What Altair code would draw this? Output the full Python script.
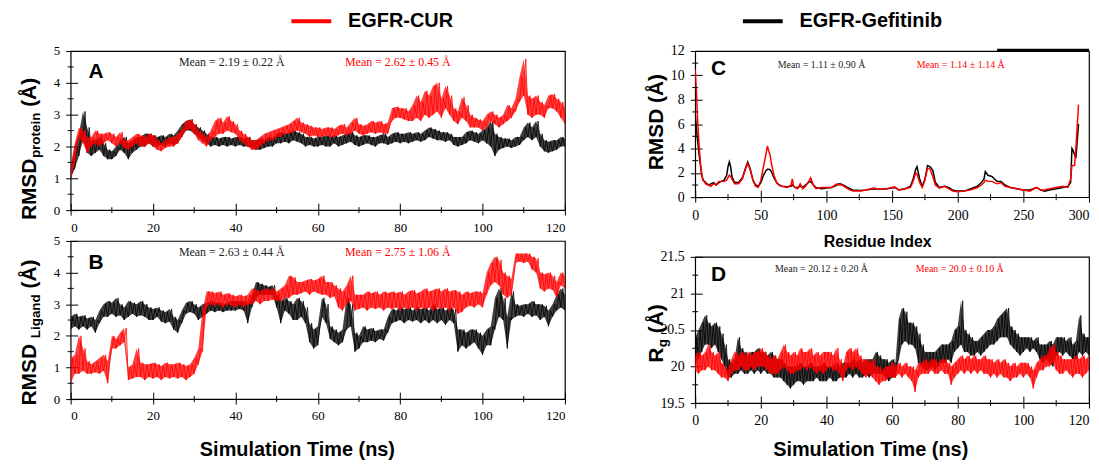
import altair as alt
import pandas as pd

# ------------------------------------------------------------------ data
SERIES = ["EGFR-CUR", "EGFR-Gefitinib"]
SERIES_COLORS = ["#ff0000", "#000000"]

TIME_NS = list(range(0, 121))

# Panel A: RMSD protein (band low / high read per ns)
A_GEF_LO = [1.0, 1.3, 1.7, 2.2, 1.8, 1.7, 1.8, 1.9, 1.7, 1.6,
            1.6, 1.7, 1.9, 1.8, 1.6, 1.8, 1.9, 2.0, 2.0, 2.1,
            2.0, 2.0, 2.05, 2.0, 2.1, 2.05, 2.1, 2.3, 2.5, 2.5,
            2.4, 2.3, 2.2, 2.1, 2.0, 2.05, 2.0, 2.05, 2.0, 2.05,
            2.0, 2.05, 2.0, 2.0, 1.95, 1.9, 1.9, 1.95, 2.0, 2.0,
            2.1, 2.1, 2.15, 2.1, 2.2, 2.15, 2.1, 2.0, 2.05, 2.0,
            2.0, 2.05, 2.0, 2.0, 2.1, 2.0, 2.05, 2.1, 2.15, 2.05,
            2.0, 2.05, 2.1, 2.05, 2.0, 2.1, 2.1, 2.05, 2.1, 2.15,
            2.1, 2.15, 2.1, 2.15, 2.2, 2.15, 2.2, 2.3, 2.25, 2.2,
            2.2, 2.15, 2.2, 2.05, 2.0, 2.05, 2.1, 2.2, 2.15, 2.1,
            2.2, 2.1, 2.0, 1.7, 1.9, 1.95, 2.0, 1.95, 2.0, 2.05,
            2.2, 2.3, 2.2, 2.3, 2.0, 1.85, 1.8, 1.85, 1.9, 2.0,
            2.0]
A_GEF_HI = [1.3, 2.0, 2.4, 3.1, 2.6, 2.2, 2.2, 2.3, 2.1, 1.9,
            1.85, 2.0, 2.2, 2.3, 2.1, 2.2, 2.3, 2.3, 2.4, 2.4,
            2.35, 2.3, 2.35, 2.3, 2.4, 2.35, 2.5, 2.7, 2.8, 2.85,
            2.7, 2.6, 2.5, 2.4, 2.3, 2.3, 2.25, 2.3, 2.3, 2.25,
            2.3, 2.3, 2.25, 2.3, 2.2, 2.2, 2.25, 2.2, 2.3, 2.25,
            2.4, 2.45, 2.4, 2.45, 2.5, 2.45, 2.4, 2.3, 2.3, 2.25,
            2.3, 2.3, 2.35, 2.3, 2.35, 2.3, 2.35, 2.4, 2.45, 2.35,
            2.3, 2.35, 2.35, 2.3, 2.3, 2.35, 2.4, 2.3, 2.4, 2.45,
            2.4, 2.4, 2.45, 2.4, 2.45, 2.4, 2.5, 2.6, 2.55, 2.5,
            2.45, 2.45, 2.4, 2.3, 2.3, 2.3, 2.45, 2.5, 2.45, 2.4,
            2.5, 2.6, 2.8, 2.4, 2.3, 2.25, 2.25, 2.2, 2.3, 2.3,
            2.6, 2.75, 2.6, 2.8, 2.4, 2.2, 2.15, 2.2, 2.2, 2.3,
            2.25]
A_CUR_LO = [1.0, 1.5, 2.3, 2.1, 1.8, 2.0, 2.1, 2.0, 2.1, 2.2,
            2.1, 2.0, 2.1, 1.95, 1.9, 2.0, 2.1, 2.0, 2.0, 2.1,
            2.0, 1.9, 1.85, 1.95, 2.0, 2.0, 2.1, 2.3, 2.5, 2.55,
            2.4, 2.2, 2.1, 2.0, 2.2, 2.3, 2.4, 2.4, 2.5, 2.45,
            2.4, 2.2, 2.1, 2.0, 1.9, 1.9, 2.0, 2.1, 2.2, 2.2,
            2.3, 2.3, 2.4, 2.4, 2.45, 2.5, 2.45, 2.4, 2.3, 2.35,
            2.3, 2.3, 2.35, 2.3, 2.3, 2.35, 2.4, 2.35, 2.4, 2.5,
            2.4, 2.35, 2.4, 2.45, 2.4, 2.45, 2.4, 2.4, 2.8, 2.9,
            2.9, 2.85, 2.8, 2.8, 2.9, 2.8, 3.0, 2.9, 3.0, 3.1,
            2.9, 3.2, 3.0, 2.8, 2.7, 2.9, 2.8, 2.6, 2.6, 2.6,
            2.5, 2.6, 2.8, 2.7, 2.6, 2.7, 2.8, 2.9, 3.1, 3.4,
            3.6, 3.0, 2.9, 3.0, 3.0, 2.9, 3.2, 3.2, 3.1, 2.9,
            2.7]
A_CUR_HI = [1.4, 2.1, 2.6, 2.5, 2.3, 2.3, 2.5, 2.4, 2.4, 2.45,
            2.4, 2.3, 2.45, 2.2, 2.2, 2.3, 2.4, 2.35, 2.3, 2.4,
            2.35, 2.2, 2.1, 2.2, 2.3, 2.3, 2.4, 2.55, 2.8, 2.85,
            2.7, 2.5, 2.4, 2.3, 2.5, 2.8, 2.9, 2.75, 2.95, 2.8,
            2.7, 2.5, 2.4, 2.3, 2.2, 2.2, 2.3, 2.4, 2.45, 2.5,
            2.55, 2.6, 2.65, 2.7, 2.8, 2.9, 2.75, 2.7, 2.65, 2.6,
            2.6, 2.55, 2.6, 2.6, 2.55, 2.65, 2.7, 2.6, 2.75, 2.9,
            2.7, 2.65, 2.7, 2.8, 2.75, 2.8, 2.7, 2.75, 3.2, 3.25,
            3.2, 3.2, 3.1, 3.3, 3.6, 3.4, 3.75, 3.6, 3.9, 4.0,
            3.5, 3.9, 3.6, 3.2, 3.1, 3.55, 3.3, 3.0, 2.9, 2.85,
            2.8, 3.0, 3.1, 3.0, 2.9, 3.0, 3.3, 3.2, 3.5, 4.2,
            4.75, 3.6, 3.5, 3.6, 3.4, 3.3, 3.6, 3.65, 3.5, 3.4,
            3.2]

# Panel B: RMSD ligand
B_GEF_LO = [2.2, 2.3, 2.2, 2.3, 2.2, 2.3, 2.1, 2.4, 2.6, 2.6,
            2.7, 2.6, 2.65, 2.5, 2.6, 2.7, 2.6, 2.65, 2.6, 2.5,
            2.5, 2.6, 2.45, 2.4, 2.45, 2.2, 2.1, 2.4, 2.7, 2.75,
            2.7, 2.5, 2.6, 2.7, 2.8, 2.75, 2.8, 2.75, 2.8, 2.8,
            2.8, 2.85, 2.8, 2.4, 2.9, 3.2, 3.3, 3.3, 3.3, 3.3,
            2.9, 2.4, 2.8, 2.7, 2.5, 2.5, 2.6, 2.4, 1.8, 1.6,
            1.7, 2.6, 2.4, 1.9, 1.8, 1.7, 1.8, 2.2, 2.3, 1.5,
            1.6, 1.8, 1.8, 1.85, 1.8, 1.9, 1.85, 2.1, 2.4, 2.45,
            2.5, 2.4, 2.5, 2.45, 2.5, 2.4, 2.5, 2.4, 2.5, 2.4,
            2.5, 2.35, 2.5, 2.4, 1.5, 1.7, 1.6, 1.7, 1.8, 1.6,
            1.4, 1.7, 1.7, 2.2, 2.6, 2.5, 1.6, 2.5, 2.6, 2.65,
            2.6, 2.7, 2.6, 2.65, 2.5, 2.6, 2.3, 2.6, 2.8, 2.9,
            2.8]
B_GEF_HI = [2.6, 2.7, 2.6, 2.65, 2.55, 2.6, 2.5, 2.8, 3.0, 3.1,
            3.05, 3.2, 3.0, 2.9, 3.1, 3.05, 3.0, 3.1, 3.0, 2.9,
            2.85, 2.9, 2.8, 2.75, 2.85, 2.6, 2.5, 2.8, 3.05, 3.1,
            3.0, 2.9, 3.0, 3.05, 3.1, 3.05, 3.05, 3.0, 3.05, 3.1,
            3.1, 3.1, 3.1, 3.0, 3.3, 3.7, 3.65, 3.6, 3.55, 3.6,
            3.3, 3.1, 3.2, 3.1, 3.0, 3.2, 3.1, 2.9, 2.4, 2.2,
            2.3, 3.2, 3.0, 2.3, 2.2, 2.1, 2.2, 3.2, 3.0, 2.1,
            2.0, 2.3, 2.2, 2.25, 2.15, 2.2, 2.2, 2.6, 2.85, 2.8,
            2.9, 2.85, 2.9, 2.8, 2.9, 2.85, 2.9, 2.8, 3.0, 2.85,
            2.9, 2.8, 2.9, 2.85, 2.2, 2.2, 2.1, 2.2, 2.2, 2.1,
            2.0, 2.2, 2.3, 3.2, 3.5, 3.2, 2.6, 3.4, 3.0, 2.95,
            3.0, 3.0, 3.1, 3.0, 3.0, 2.95, 2.8, 3.0, 3.3, 3.5,
            3.3]
B_CUR_LO = [0.5, 0.8, 0.8, 0.9, 0.8, 0.8, 0.85, 0.8, 0.9, 0.5,
            1.6, 1.6, 1.7, 1.8, 0.6, 0.65, 0.7, 0.7, 0.6, 0.7,
            0.65, 0.7, 0.6, 0.7, 0.65, 0.7, 0.65, 0.7, 0.6, 0.7,
            0.8, 1.1, 1.5, 2.9, 3.0, 2.95, 3.0, 2.9, 3.0, 2.95,
            2.9, 3.0, 2.9, 3.0, 3.0, 3.1, 3.0, 3.1, 3.1, 3.15,
            3.1, 3.1, 3.2, 3.2, 3.3, 3.3, 3.35, 3.4, 3.3, 3.4,
            3.35, 3.3, 3.3, 3.2, 3.25, 2.9, 2.8, 3.0, 3.1, 2.8,
            2.85, 2.9, 2.8, 2.9, 2.85, 2.9, 2.8, 2.9, 2.85, 2.9,
            2.8, 2.9, 2.85, 2.9, 2.8, 2.9, 2.85, 2.9, 2.8, 2.9,
            2.85, 2.9, 2.8, 2.9, 2.7, 2.75, 2.9, 2.95, 2.9, 3.0,
            2.9, 3.3, 3.6, 3.7, 3.6, 3.3, 3.2, 3.3, 4.3, 4.35,
            4.3, 4.35, 4.1, 4.0, 3.5, 3.4, 3.5, 3.45, 3.2, 3.6,
            3.5]
B_CUR_HI = [1.3, 1.4, 2.0, 1.6, 1.2, 1.1, 1.2, 1.3, 1.4, 1.2,
            2.0, 1.9, 2.1, 2.25, 1.0, 1.1, 1.6, 1.15, 1.1, 1.1,
            1.15, 1.1, 1.05, 1.15, 1.1, 1.1, 1.15, 1.1, 1.05, 1.1,
            1.3, 1.6, 2.8, 3.4, 3.4, 3.35, 3.4, 3.3, 3.35, 3.3,
            3.25, 3.3, 3.25, 3.3, 3.5, 3.45, 3.4, 3.5, 3.45, 3.5,
            3.4, 3.5, 3.6, 3.9, 3.85, 3.7, 3.7, 3.75, 3.8, 3.75,
            3.8, 3.9, 3.7, 3.7, 3.6, 3.5, 3.4, 3.6, 3.9, 3.3,
            3.3, 3.3, 3.4, 3.35, 3.4, 3.3, 3.4, 3.35, 3.4, 3.35,
            3.4, 3.3, 3.4, 3.45, 3.35, 3.4, 3.5, 3.4, 3.45, 3.5,
            3.4, 3.5, 3.4, 3.45, 3.4, 3.3, 3.4, 3.35, 3.4, 3.4,
            3.35, 4.0, 4.3, 4.5, 4.4, 4.0, 3.9, 3.8, 4.6, 4.6,
            4.6, 4.6, 4.5, 4.45, 4.0, 3.95, 4.0, 3.9, 3.7, 4.0,
            3.9]

# Panel C: per-residue RMSD
C_RESIDUE = [0, 1, 2, 3, 4, 5, 6, 8, 10, 12, 14, 16, 18, 20, 22, 24, 25, 26, 27, 28,
             30, 33, 36, 38, 40, 42, 44, 46, 48, 50, 52, 54, 55, 56, 57, 58, 60, 62, 64, 66,
             70, 73, 74, 75, 76, 78, 80, 82, 84, 86, 88, 90, 92, 96, 100, 104, 108, 110, 112, 116,
             120, 126, 130, 136, 140, 146, 150, 152, 155, 160, 164, 166, 168, 169, 171, 173, 175, 177, 179, 181,
             183, 186, 190, 193, 196, 200, 205, 210, 215, 218, 220, 221, 223, 226, 228, 230, 233, 236, 240, 245,
             250, 255, 260, 263, 266, 270, 275, 280, 284, 286, 287, 288, 289, 290, 292]
C_GEF = [7.0, 5.5, 4.5, 3.5, 2.6, 1.8, 1.4, 1.2, 1.0, 1.1, 1.2, 1.0, 1.2, 1.3, 1.4, 1.8, 2.5, 2.9, 2.5, 1.7,
         1.2, 1.2, 1.6, 2.3, 2.9, 2.3, 1.4, 1.0, 0.9, 1.2, 1.8, 2.2, 2.3, 2.3, 2.25, 2.1, 1.6, 1.2, 1.0, 0.9,
         0.85, 0.9, 1.0, 0.9, 0.8, 0.8, 0.9, 0.8, 1.0, 1.2, 1.3, 1.0, 0.8, 0.7, 0.75, 0.8, 1.0, 1.1, 1.05, 0.8,
         0.6, 0.55, 0.6, 0.7, 0.65, 0.7, 0.75, 0.8, 0.6, 0.7, 0.9, 1.5, 2.3, 2.5, 1.5, 0.9, 1.5, 2.6, 2.5, 2.2,
         1.2, 0.8, 0.9, 0.8, 0.6, 0.5, 0.5, 0.7, 0.9, 1.2, 1.5, 2.1, 1.8, 1.7, 1.5, 1.3, 1.3, 1.0, 0.8, 0.7,
         0.6, 0.6, 0.8, 0.6, 0.5, 0.6, 0.7, 0.8, 0.9, 1.2, 4.0, 3.8, 3.5, 3.2, 6.0]
C_CUR = [10.5, 8.5, 6.0, 4.2, 2.8, 1.9, 1.4, 1.1, 1.0, 0.9, 1.1, 1.0, 1.3, 1.3, 1.3, 1.4, 1.6, 1.8, 1.7, 1.5,
         1.1, 1.1, 1.5, 2.2, 2.8, 2.2, 1.4, 0.9, 0.8, 1.4, 2.5, 3.6, 4.2, 3.8, 3.5, 2.8, 1.8, 1.2, 1.0, 0.9,
         0.8, 1.0, 1.5, 0.9, 0.8, 0.7, 1.1, 0.7, 0.9, 1.2, 1.6, 1.0, 0.7, 0.8, 0.8, 0.8, 1.1, 1.0, 1.0, 0.7,
         0.5, 0.5, 0.6, 0.75, 0.65, 0.7, 0.8, 0.85, 0.6, 0.7, 0.8, 1.3, 2.0, 1.9, 1.2, 0.8, 1.4, 2.4, 2.3, 1.7,
         1.0, 0.75, 0.9, 0.7, 0.5, 0.45, 0.5, 0.6, 0.8, 1.0, 1.2, 1.4, 1.3, 1.3, 1.2, 1.1, 1.2, 0.9, 0.8, 0.7,
         0.6, 0.5, 0.8, 0.6, 0.6, 0.7, 0.8, 0.9, 0.8, 1.5, 2.6, 2.6, 2.6, 4.0, 7.6]

# Panel D: radius of gyration
D_GEF_LO = [20.05, 20.1, 20.2, 20.3, 20.3, 20.25, 20.3, 20.2, 20.1, 20.0,
            19.85, 19.85, 19.9, 19.9, 19.95, 19.9, 19.9, 19.95, 19.9, 19.95,
            19.9, 19.95, 19.9, 19.9, 19.85, 19.85, 19.85, 19.8, 19.75, 19.7,
            19.75, 19.8, 19.8, 19.75, 19.8, 19.8, 19.8, 19.85, 19.8, 19.8,
            19.8, 19.85, 19.8, 19.8, 19.85, 19.85, 19.85, 19.9, 19.85, 19.9,
            19.85, 19.85, 19.9, 19.85, 19.9, 19.9, 19.9, 19.9, 19.85, 19.8,
            19.85, 19.85, 20.1, 20.3, 20.35, 20.3, 20.3, 20.25, 20.05, 20.0,
            19.95, 19.95, 20.0, 19.95, 20.0, 20.05, 20.05, 20.1, 20.05, 20.2,
            20.25, 20.3, 20.2, 20.2, 20.15, 20.15, 20.2, 20.15, 20.2, 20.25,
            20.3, 20.3, 20.35, 20.4, 20.4, 20.4, 20.3, 20.25, 20.2, 20.15,
            20.2, 20.25, 20.2, 20.25, 20.2, 20.1, 20.05, 20.1, 20.05, 20.0,
            20.15, 20.2, 20.15, 20.2, 20.15, 20.1, 20.1, 20.2, 20.15, 20.2,
            20.15]
D_GEF_HI = [20.4, 20.5, 20.6, 20.7, 20.6, 20.55, 20.6, 20.55, 20.45, 20.3,
            20.1, 20.05, 20.1, 20.4, 20.25, 20.2, 20.15, 20.2, 20.2, 20.25,
            20.2, 20.2, 20.15, 20.2, 20.15, 20.1, 20.1, 20.05, 20.0, 20.0,
            20.0, 20.0, 20.05, 20.0, 20.0, 20.05, 20.0, 20.0, 20.0, 20.05,
            20.0, 20.0, 20.0, 20.05, 20.0, 20.05, 20.05, 20.05, 20.1, 20.05,
            20.1, 20.05, 20.1, 20.1, 20.1, 20.2, 20.15, 20.1, 20.1, 20.05,
            20.1, 20.05, 20.65, 20.8, 20.75, 20.6, 20.6, 20.55, 20.45, 20.3,
            20.2, 20.2, 20.2, 20.2, 20.25, 20.3, 20.3, 20.3, 20.35, 20.5,
            20.55, 20.9, 20.5, 20.45, 20.4, 20.35, 20.35, 20.4, 20.45, 20.5,
            20.5, 20.55, 20.65, 20.7, 20.75, 20.8, 20.55, 20.5, 20.45, 20.4,
            20.4, 20.4, 20.4, 20.35, 20.4, 20.3, 20.3, 20.3, 20.35, 20.3,
            20.4, 20.4, 20.4, 20.35, 20.4, 20.3, 20.35, 20.7, 20.45, 20.4,
            20.4]
D_CUR_LO = [19.95, 19.9, 19.95, 19.95, 20.0, 19.95, 19.95, 19.9, 19.85, 19.85,
            19.8, 19.9, 19.95, 19.95, 20.0, 19.95, 19.95, 20.0, 19.95, 20.0,
            20.0, 20.0, 19.95, 19.9, 19.9, 19.9, 19.95, 20.0, 19.95, 19.9,
            19.9, 19.95, 19.95, 20.0, 19.95, 20.0, 19.95, 19.9, 19.95, 19.9,
            19.95, 20.0, 19.95, 19.95, 19.9, 19.8, 19.95, 20.0, 19.95, 20.0,
            19.95, 19.9, 19.85, 19.9, 19.85, 19.8, 19.75, 19.8, 19.8, 19.85,
            19.85, 19.85, 19.9, 19.85, 19.9, 19.85, 19.8, 19.65, 19.85, 19.9,
            19.9, 19.9, 19.95, 19.9, 19.9, 19.95, 19.9, 19.9, 19.75, 19.85,
            19.9, 19.95, 19.9, 19.95, 19.9, 19.95, 19.9, 19.95, 19.9, 19.9,
            19.85, 19.9, 19.85, 19.9, 19.85, 19.85, 19.8, 19.85, 19.85, 19.9,
            19.85, 19.9, 19.85, 19.7, 19.85, 19.95, 19.95, 20.0, 20.0, 20.05,
            19.95, 19.9, 19.9, 19.95, 19.9, 19.85, 19.9, 19.9, 19.85, 19.9,
            19.95]
D_CUR_HI = [20.15, 20.2, 20.15, 20.2, 20.3, 20.2, 20.15, 20.2, 20.05, 20.0,
            19.95, 20.1, 20.2, 20.15, 20.2, 20.15, 20.2, 20.15, 20.2, 20.2,
            20.25, 20.2, 20.15, 20.1, 20.15, 20.1, 20.2, 20.3, 20.2, 20.15,
            20.2, 20.15, 20.25, 20.2, 20.2, 20.25, 20.15, 20.2, 20.15, 20.2,
            20.2, 20.2, 20.15, 20.25, 20.1, 20.0, 20.2, 20.25, 20.2, 20.25,
            20.15, 20.1, 20.1, 20.05, 20.1, 20.0, 20.0, 19.95, 20.0, 20.0,
            20.05, 20.0, 20.05, 20.0, 20.05, 20.0, 20.0, 19.95, 20.05, 20.05,
            20.1, 20.05, 20.1, 20.1, 20.05, 20.1, 20.1, 20.05, 20.0, 20.05,
            20.1, 20.15, 20.1, 20.15, 20.1, 20.15, 20.1, 20.1, 20.15, 20.1,
            20.1, 20.05, 20.1, 20.05, 20.1, 20.05, 20.0, 20.05, 20.0, 20.05,
            20.05, 20.05, 20.0, 19.95, 20.05, 20.1, 20.15, 20.15, 20.25, 20.3,
            20.2, 20.15, 20.1, 20.1, 20.1, 20.1, 20.15, 20.1, 20.15, 20.1,
            20.15]

A_MEANS = ["Mean = 2.19 ± 0.22 Å", "Mean = 2.62 ± 0.45 Å"]
B_MEANS = ["Mean = 2.63 ± 0.44 Å", "Mean = 2.75 ± 1.06 Å"]
C_MEANS = ["Mean = 1.11 ± 0.90 Å", "Mean = 1.14 ± 1.14 Å"]
D_MEANS = ["Mean = 20.12 ± 0.20 Å", "Mean = 20.0 ± 0.10 Å"]

TIME_TICKS = [0, 20, 40, 60, 80, 100, 120]
TIME_MINOR = [10, 30, 50, 70, 90, 110]
RMSD_TICKS = [0, 1, 2, 3, 4, 5]
RMSD_MINOR = [0.5, 1.5, 2.5, 3.5, 4.5]
RES_TICKS = [0, 50, 100, 150, 200, 250, 300]
RES_MINOR = [25, 75, 125, 175, 225, 275]
RES_Y_TICKS = [0, 2, 4, 6, 8, 10, 12]
RES_Y_MINOR = [1, 3, 5, 7, 9, 11]
RG_TICKS = [19.5, 20, 20.5, 21, 21.5]
RG_MINOR = [19.75, 20.25, 20.75, 21.25]

# ------------------------------------------------------------------ layout / style
LEFT_W, RIGHT_W = 497, 396
A_H, B_H, C_H, D_H = 160, 159, 147, 147
SANS = "Liberation Sans"
SERIF = "Liberation Serif"

COLOR_SCALE = alt.Scale(domain=SERIES, range=SERIES_COLORS)
# legend stroke: a path that starts at the symbol centre and runs 40px to the right,
# while the symbol box itself stays 20px tall
LEGEND = alt.Legend(
    title=None, orient="none", legendX=210, legendY=-42, direction="horizontal",
    symbolType="M0,0H4", symbolSize=400, symbolStrokeWidth=4,
    labelFont=SANS, labelFontSize=20, labelFontWeight="bold", labelColor="black",
    labelOffset=45, columnPadding=279, labelLimit=300, padding=0,
)

BOLD_W = {"R": 722, "M": 833, "S": 667, "D": 722, "(": 333, "Å": 722, ")": 333,
          "p": 611, "r": 389, "o": 611, "t": 333, "e": 556, "i": 278, "n": 611,
          "L": 611, "g": 611, "a": 556, "d": 611}


def text_width(s, fs):
    return sum(BOLD_W.get(c, 600) for c in s) * fs / 1000.0


def zigzag(xs, lo, hi, name, step):
    rows = []
    n = len(lo)
    for i in range(n):
        rows.append((xs[i], lo[i], name))
        if i < n - 1:
            rows.append((xs[i] + step, hi[i], name))
    return pd.DataFrame(rows, columns=["x", "y", "series"])


def band(xs, lo, hi):
    return pd.DataFrame({"x": xs, "lo": lo, "hi": hi})


def make_axis(values, size, fmt, title=None, last=None, **extra):
    kw = dict(values=values, title=title, domain=False, grid=False, offset=-7, tickSize=12,
              tickColor="black", tickWidth=1, labelFont=SERIF, labelFontSize=size,
              labelColor="black", labelPadding=6, format=fmt, labelOverlap=False)
    if last is not None:
        kw["labelAlign"] = {"condition": {"test": "datum.value == %s" % last, "value": "right"},
                            "value": "center"}
    kw.update(extra)
    return alt.Axis(**kw)


def txt(label, x, y, **mk):
    return alt.Chart(pd.DataFrame({"label": [label]})).mark_text(**mk).encode(
        text="label:N", x=alt.value(x), y=alt.value(y))


def ytitle(pieces, cy):
    total = sum(text_width(t, fs) + gap for t, fs, xa, gap in pieces)
    y = cy + total / 2.0
    out = []
    for t, fs, xa, gap in pieces:
        y -= gap
        out.append(txt(t, xa, y, angle=270, align="left", baseline="alphabetic", font=SANS,
                       fontWeight="bold", fontSize=fs, color="black"))
        y -= text_width(t, fs)
    return out


def panel(w, h, xdom, ydom, xaxis, yaxis, gef, cur, lw, xminor, yminor,
          letter, letter_xy, means, mean_x, mean_y, mean_size, title_pieces, title_cy,
          extra=(), bands=None):
    xs = alt.Scale(domain=xdom, nice=False, zero=False)
    ys = alt.Scale(domain=ydom, nice=False, zero=False)
    X = alt.X("x:Q", scale=xs, axis=xaxis)
    Y = alt.Y("y:Q", scale=ys, axis=yaxis)
    col = alt.Color("series:N", scale=COLOR_SCALE, legend=LEGEND)
    layers = []
    parts = [(gef, SERIES_COLORS[1], bands[0] if bands else None),
             (cur, SERIES_COLORS[0], bands[1] if bands else None)]
    for df, colr, bd in parts:
        if bd is not None:
            layers.append(alt.Chart(bd).mark_area(color=colr, opacity=0.75, clip=True).encode(
                x=X, y=alt.Y("lo:Q", scale=ys, axis=yaxis), y2="hi:Q"))
        layers.append(alt.Chart(df).mark_line(strokeWidth=lw, clip=True).encode(x=X, y=Y, color=col))
    layers += [
        alt.Chart(pd.DataFrame({"x": xminor})).mark_rule(color="black", strokeWidth=1).encode(
            x=X, y=alt.value(h - 3), y2=alt.value(h + 3)),
        alt.Chart(pd.DataFrame({"y": yminor})).mark_rule(color="black", strokeWidth=1).encode(
            y=Y, x=alt.value(-3), x2=alt.value(3)),
    ]
    for e in extra:
        layers.append(e(X))
    layers.append(txt(letter, letter_xy[0], letter_xy[1], align="left", baseline="alphabetic",
                      font=SANS, fontWeight="bold", fontSize=21, color="black"))
    layers.append(txt(means[0], mean_x[0], mean_y, align="center", baseline="middle",
                      font=SERIF, fontSize=mean_size, color="#222222"))
    layers.append(txt(means[1], mean_x[1], mean_y, align="center", baseline="middle",
                      font=SERIF, fontSize=mean_size, color="#ff0000"))
    layers += ytitle(title_pieces, title_cy)
    return alt.layer(*layers).properties(width=w, height=h)


TITLE_KW = dict(titleFont=SANS, titleFontWeight="bold", titleColor="black",
                titleAlign="center", titleBaseline="alphabetic", titleAnchor="start")

# Panel A
chart_a = panel(
    LEFT_W, A_H, [0, 120], [0, 5],
    make_axis(TIME_TICKS, 13, "d"), make_axis(RMSD_TICKS, 13, "d"),
    zigzag(TIME_NS, A_GEF_LO, A_GEF_HI, SERIES[1], 0.5),
    zigzag(TIME_NS, A_CUR_LO, A_CUR_HI, SERIES[0], 0.5),
    0.8, TIME_MINOR, RMSD_MINOR, "A", (18, 27), A_MEANS, (162, 329), 11, 12,
    [("RMSD", 21, -35, 0), ("protein", 13.5, -31, 0.5), ("(Å)", 21, -35, 5.8)], 98.5,
    bands=(band(TIME_NS, A_GEF_LO, A_GEF_HI), band(TIME_NS, A_CUR_LO, A_CUR_HI)),
)

# Panel B
chart_b = panel(
    LEFT_W, B_H, [0, 120], [0, 5],
    make_axis(TIME_TICKS, 13, "d", title="Simulation Time (ns)", titleFontSize=20,
              titleX=LEFT_W / 2.0 - 21, titleY=64, **TITLE_KW),
    make_axis(RMSD_TICKS, 13, "d"),
    zigzag(TIME_NS, B_GEF_LO, B_GEF_HI, SERIES[1], 0.5),
    zigzag(TIME_NS, B_CUR_LO, B_CUR_HI, SERIES[0], 0.5),
    0.8, TIME_MINOR, RMSD_MINOR, "B", (18, 28), B_MEANS, (162, 329), 11, 12,
    [("RMSD", 21, -35, 0), ("Ligand", 13.5, -31, 5.8), ("(Å)", 21, -35, 5.8)], 92,
    bands=(band(TIME_NS, B_GEF_LO, B_GEF_HI), band(TIME_NS, B_CUR_LO, B_CUR_HI)),
)


def top_bar(X):
    return alt.Chart(pd.DataFrame({"x": [230], "x2": [300]})).mark_rule(
        color="black", strokeWidth=2.5).encode(x=X, x2="x2:Q", y=alt.value(-1))


c_gef = pd.DataFrame({"x": C_RESIDUE, "y": C_GEF, "series": SERIES[1]})
c_cur = pd.DataFrame({"x": C_RESIDUE, "y": C_CUR, "series": SERIES[0]})

# Panel C
chart_c = panel(
    RIGHT_W, C_H, [0, 300], [0, 12],
    make_axis(RES_TICKS, 14, "d", title="Residue Index", last=300, titleFontSize=16,
              titleX=RIGHT_W / 2.0 - 15, titleY=57, **TITLE_KW),
    make_axis(RES_Y_TICKS, 14, "d"),
    c_gef, c_cur, 1.5, RES_MINOR, RES_Y_MINOR, "C", (16, 24), C_MEANS, (127, 267), 14, 10,
    [("RMSD", 21, -32, 0), ("(Å)", 21, -32, 5.8)], 71.5, extra=(top_bar,),
)

# Panel D
chart_d = panel(
    RIGHT_W, D_H, [0, 120], [19.5, 21.5],
    make_axis(TIME_TICKS, 14, "d", title="Simulation Time (ns)", last=120, titleFontSize=20,
              titleX=RIGHT_W / 2.0 - 22, titleY=60, **TITLE_KW),
    make_axis(RG_TICKS, 14, "~g"),
    zigzag(TIME_NS, D_GEF_LO, D_GEF_HI, SERIES[1], 0.5),
    zigzag(TIME_NS, D_CUR_LO, D_CUR_HI, SERIES[0], 0.5),
    0.8, TIME_MINOR, RG_MINOR, "D", (16, 24), D_MEANS, (127, 266), 12, 10,
    [("R", 21, -32, 0), ("g", 13.5, -28, 0.5), ("(Å)", 21, -32, 5.8)], 77,
    bands=(band(TIME_NS, D_GEF_LO, D_GEF_HI), band(TIME_NS, D_CUR_LO, D_CUR_HI)),
)

left = alt.vconcat(chart_a, chart_b, spacing=31, bounds="flush")
right = alt.vconcat(chart_c, chart_d, spacing=60, bounds="flush")
chart = alt.hconcat(left, right, spacing=79, bounds="full").properties(
    padding={"left": 10, "top": 0, "right": 0, "bottom": 0}
).configure_view(stroke="black", strokeWidth=1.2)

chart.save("out.html", embed_options={"renderer": "svg", "actions": False})
